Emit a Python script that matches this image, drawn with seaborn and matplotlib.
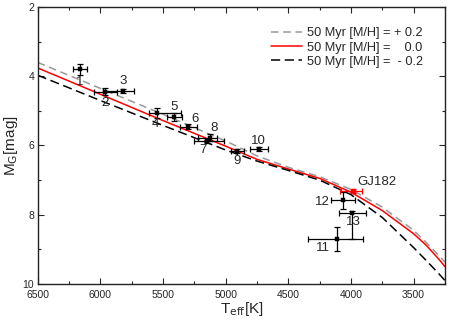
import matplotlib
matplotlib.use('Agg')
import matplotlib.pyplot as plt
from matplotlib.ticker import MultipleLocator
import seaborn as sns
import pandas as pd
import numpy as np

# isochrones (50 Myr), Teff [K] vs M_G [mag]
teff_grid = [6500, 6000, 5500, 5000, 4750, 4500, 4250, 4000, 3750, 3500, 3400, 3300, 3250]
mg_p02 = [3.60, 4.35, 5.10, 5.87, 6.30, 6.63, 6.90, 7.27, 7.78, 8.45, 8.80, 9.17, 9.37]
mg_000 = [3.76, 4.52, 5.28, 6.02, 6.40, 6.68, 6.95, 7.35, 7.88, 8.55, 8.88, 9.28, 9.50]
mg_m02 = [3.97, 4.70, 5.42, 6.13, 6.45, 6.72, 7.00, 7.42, 8.08, 8.95, 9.32, 9.70, 9.90]
iso_labels = ['50 Myr [M/H] = + 0.2', '50 Myr [M/H] =    0.0', '50 Myr [M/H] =  - 0.2']

# stars
star_names = ['1', '2', '3', '4', '5', '6', '7', '8', '9', '10', '11', '12', '13']
star_teff = [6160, 5960, 5816, 5550, 5411, 5297, 5150, 5124, 4906, 4735, 4112, 4067, 3992]
star_mg = [3.80, 4.45, 4.42, 5.07, 5.18, 5.46, 5.88, 5.78, 6.16, 6.10, 8.71, 7.58, 7.95]
teff_err_lo = [56, 90, 85, 190, 60, 65, 134, 55, 50, 72, 205, 97, 115]
teff_err_hi = [56, 90, 165, 60, 60, 65, 100, 100, 50, 72, 230, 90, 105]
mg_err_lo = [0.16, 0.10, 0.06, 0.15, 0.12, 0.07, 0.05, 0.10, 0.05, 0.05, 0.35, 0.25, 0.05]
mg_err_hi = [0.16, 0.10, 0.06, 0.15, 0.12, 0.07, 0.05, 0.10, 0.05, 0.05, 0.35, 0.25, 0.75]
label_offsets = [(-1, -13), (0, -11), (0, 10), (-1, -11), (0, 10), (7, 8), (-4, -9),
                 (4, 10), (0, -10), (0, 8), (-14, -9), (-20, -2), (1, -9)]

gj_teff = [3984]
gj_mg = [7.31]
gj_teff_lo = [75]
gj_teff_hi = [105]
gj_mg_err = [0.06]

sns.set_style('ticks')
plt.rcParams['font.family'] = ['Liberation Sans', 'DejaVu Sans']

iso = pd.DataFrame({
    'teff': teff_grid * 3,
    'mg': mg_p02 + mg_000 + mg_m02,
    'model': [iso_labels[0]] * len(teff_grid) + [iso_labels[1]] * len(teff_grid)
             + [iso_labels[2]] * len(teff_grid),
})

fig = plt.figure(figsize=(4.53, 3.24), dpi=100)
ax = fig.add_axes([0.0832, 0.1235, 0.8991, 0.8549])

palette = {iso_labels[0]: '#999999', iso_labels[1]: '#ff0000', iso_labels[2]: '#000000'}
dashes = {iso_labels[0]: (5, 3), iso_labels[1]: '', iso_labels[2]: (6, 3)}
sns.lineplot(data=iso, x='teff', y='mg', hue='model', style='model',
             palette=palette, dashes=dashes, hue_order=iso_labels,
             style_order=iso_labels, sort=False, estimator=None,
             linewidth=1.1, ax=ax)

ax.errorbar(star_teff, star_mg,
            xerr=[teff_err_lo, teff_err_hi], yerr=[mg_err_lo, mg_err_hi],
            fmt='none', ecolor='black', elinewidth=0.9, capsize=2, capthick=0.9, zorder=3)
sns.scatterplot(x=star_teff, y=star_mg, color='black', marker='s', s=12,
                edgecolor='black', linewidth=0.3, ax=ax, zorder=4)
ax.errorbar(gj_teff, gj_mg, xerr=[gj_teff_lo, gj_teff_hi], yerr=gj_mg_err,
            fmt='s', color='red', ms=3.5, elinewidth=0.9, capsize=2, capthick=0.9, zorder=5)

for name, t, m, off in zip(star_names, star_teff, star_mg, label_offsets):
    ax.annotate(name, (t, m), xytext=off, textcoords='offset pixels',
                ha='center', va='center', fontsize=9.5)
ax.annotate('GJ182', (gj_teff[0], gj_mg[0]), xytext=(24, 9), textcoords='offset pixels',
            ha='center', va='center', fontsize=9.5)

ax.set_xlim(6500, 3250)
ax.set_ylim(10, 2)
ax.xaxis.set_major_locator(MultipleLocator(500))
ax.xaxis.set_minor_locator(MultipleLocator(250))
ax.yaxis.set_major_locator(MultipleLocator(2))
ax.yaxis.set_minor_locator(MultipleLocator(1))
ax.tick_params(which='both', direction='in', top=True, right=True,
               labelsize=7.5, width=0.8)
ax.tick_params(axis='x', pad=4.5)
ax.tick_params(axis='y', pad=2.5)
ax.tick_params(which='major', length=4)
ax.tick_params(which='minor', length=2.5)
for sp in ax.spines.values():
    sp.set_linewidth(1.0)
    sp.set_color('#222222')

ax.set_xlabel(r'T$_{\rm eff}$[K]', fontsize=11, labelpad=0)
ax.set_ylabel(r'M$_{\rm G}$[mag]', fontsize=11, labelpad=2)

handles, labels = ax.get_legend_handles_labels()
ax.legend(handles, labels, loc='upper right', bbox_to_anchor=(0.96, 0.945),
          frameon=False, fontsize=9.2, handlelength=2.4, handletextpad=0.45,
          labelspacing=0.18, borderaxespad=0)

fig.savefig('out.png', dpi=100)
